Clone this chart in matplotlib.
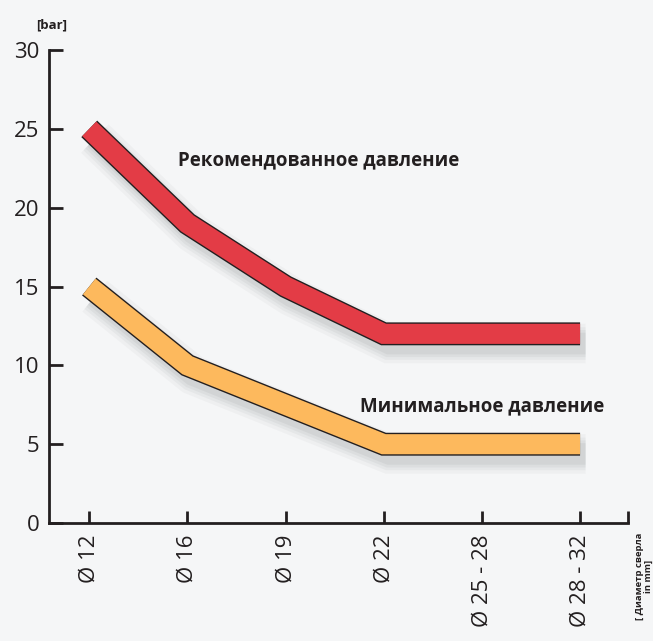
import numpy as np
import matplotlib
matplotlib.use("Agg")
import matplotlib.pyplot as plt
import matplotlib.patheffects as pe

# drill diameters and pressures
diameters = ["Ø 12", "Ø 16", "Ø 19", "Ø 22", "Ø 25 - 28", "Ø 28 - 32"]
recommended = [25, 19, 15, 12, 12, 12]
minimum = [15, 10, 7.5, 5, 5, 5]
yticks = [0, 5, 10, 15, 20, 25, 30]

red = "#e33c46"
orange = "#fdb95d"
ink = "#231f20"
bg = "#f5f6f7"

plt.rcParams["font.family"] = ["Open Sans", "DejaVu Sans"]


def soft_shadow(base, dx=4, dy=-7):
    # a few widening translucent strokes to fake a blurred drop shadow
    fx = []
    for w, a in [(14, 0.04), (9, 0.05), (5, 0.06), (1, 0.07)]:
        fx.append(pe.Stroke(offset=(dx, dy), linewidth=base + w,
                            foreground="#50555c", alpha=a))
    return fx


fig = plt.figure(figsize=(6.53, 6.41), dpi=100, facecolor=bg)
ax = fig.add_axes([0.075, 0.184, 0.887, 0.738])
ax.set_facecolor("none")

x = np.arange(len(diameters))
lw = 14.5
for vals, col in [(recommended, red), (minimum, orange)]:
    ax.plot(x, vals, color=col, lw=lw, solid_capstyle="butt",
            solid_joinstyle="miter", zorder=3,
            path_effects=soft_shadow(lw) + [
                pe.Stroke(linewidth=lw + 2, foreground=ink),
                pe.Normal()])

ax.text(0.9, 23.0, "Рекомендованное давление", fontsize=13.5, fontweight="bold",
        color=ink, va="center", ha="left")
ax.text(5.25, 7.4, "Минимальное давление", fontsize=13.5, fontweight="bold",
        color=ink, va="center", ha="right")

ax.set_xlim(-0.41, 5.49)
ax.set_ylim(0, 30)
ax.set_xticks(list(x) + [5.49])
ax.set_xticklabels(diameters + [""], rotation=90, fontsize=16, color=ink,
                   va="top", ha="center")
ax.set_yticks(yticks)
ax.set_yticklabels([str(v) for v in yticks], fontsize=16, color=ink)
ax.tick_params(axis="x", direction="in", length=9, width=2, color=ink, pad=8)
ax.tick_params(axis="y", direction="in", length=10, width=2, color=ink, pad=7)

for s in ["top", "right"]:
    ax.spines[s].set_visible(False)
for s in ["left", "bottom"]:
    ax.spines[s].set_linewidth(2)
    ax.spines[s].set_color(ink)
ax.spines["left"].set_zorder(5)

ax.text(-0.38, 31.2, "[bar]", fontsize=9.5, fontweight="bold", color=ink,
        ha="center", va="bottom")
ax.text(5.65, -0.6, "[ Диаметр сверла\nin mm]", fontsize=6.8, fontweight="bold",
        color=ink, rotation=90, ha="center", va="top", multialignment="center",
        linespacing=0.9)

fig.savefig("out.png", dpi=100, facecolor=bg)
